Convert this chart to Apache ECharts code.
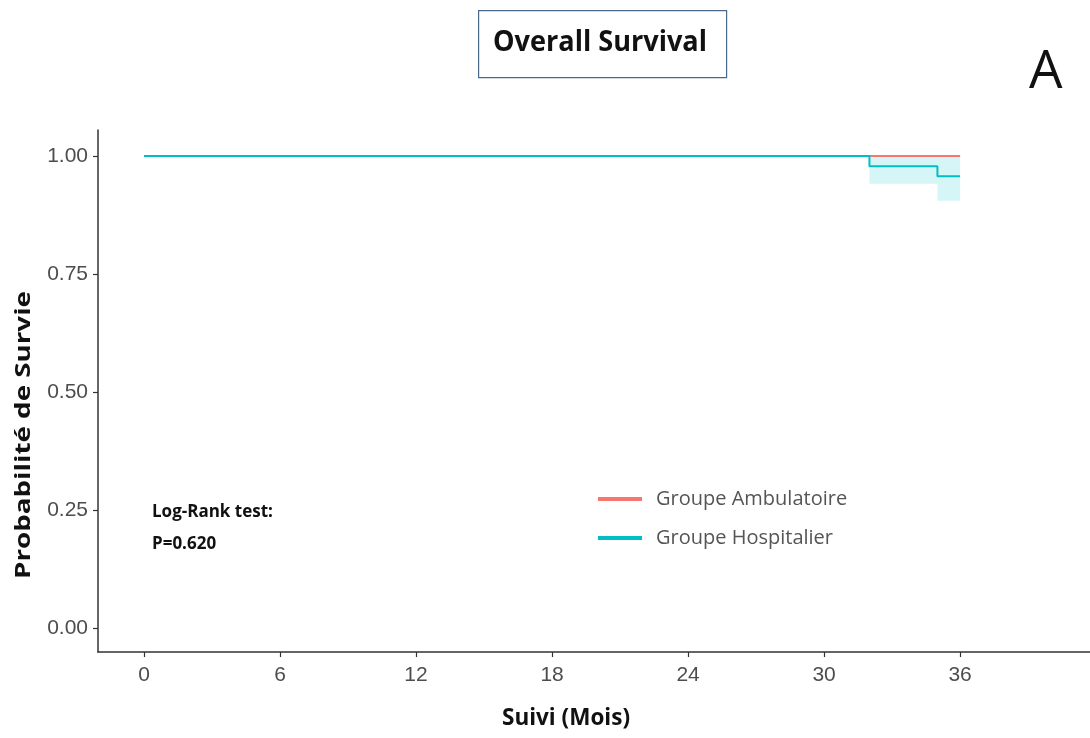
<!DOCTYPE html>
<html>
<head>
<meta charset="utf-8">
<script src="https://cdn.jsdelivr.net/npm/echarts@6/dist/echarts.min.js"></script>
<style>
html,body{margin:0;padding:0;background:#fff;}
#chart{width:1090px;height:738px;}
</style>
</head>
<body>
<div id="chart"></div>
<script>
// ---- data ----
var xTicks = [0, 6, 12, 18, 24, 30, 36];
var yTicks = [0, 0.25, 0.5, 0.75, 1.0];
var groupNames = ['Groupe Ambulatoire', 'Groupe Hospitalier'];
// Kaplan-Meier steps [time, survival]
var ambulatoire = [[0, 1.0], [36, 1.0]];
var hospitalier = [[0, 1.0], [32, 0.978], [35, 0.957], [36, 0.957]];
// confidence band for Hospitalier: [t0, t1, lower, upper]
var hospBand = [[32, 35, 0.941, 1.0], [35, 36, 0.905, 1.0]];
var logRankText = ['Log-Rank test:', 'P=0.620'];

var RED = '#F8766D', TEAL = '#00BFC4';

function textW(t, font) {
  var c = document.createElement('canvas').getContext('2d');
  c.font = font; return c.measureText(t).width;
}
function fitScale(t, font, target) { return target / textW(t, font); }

var chart = echarts.init(document.getElementById('chart'));

var titleFont = 'bold 29px "Open Sans"';
var yNameFont = 'bold 22px "Open Sans"';
var xNameFont = 'bold 24px "Open Sans"';
var lrFont = 'bold 17px "Open Sans"';

var option = {
  animation: false,
  grid: { left: 98, right: 0, top: 130, bottom: 86 },
  xAxis: {
    type: 'value', min: -2.03, max: 41.73,
    splitLine: { show: false },
    axisLine: { show: true, onZero: false, lineStyle: { color: '#333', width: 1.5 } },
    axisTick: { show: true, customValues: xTicks, length: 5, lineStyle: { color: '#333', width: 1.2 } },
    axisLabel: { customValues: xTicks, margin: 13, color: '#4D4D4D', fontSize: 21,
      fontFamily: '"Liberation Sans Narrow", "Liberation Sans", Arial' }
  },
  yAxis: {
    type: 'value', min: -0.051, max: 1.055,
    splitLine: { show: false },
    axisLine: { show: true, onZero: false, lineStyle: { color: '#333', width: 1.5 } },
    axisTick: { show: true, customValues: yTicks, length: 5, lineStyle: { color: '#333', width: 1.2 } },
    axisLabel: { customValues: yTicks, margin: 10, color: '#4D4D4D', fontSize: 21,
      fontFamily: '"Liberation Sans Narrow", "Liberation Sans", Arial',
      formatter: function (v) { return v.toFixed(2); } }
  },
  legend: {
    show: true, orient: 'vertical', left: 593, top: 484,
    itemWidth: 44, itemHeight: 4, itemGap: 19,
    icon: 'rect',
    textStyle: { color: '#555', fontSize: 20, fontFamily: '"Open Sans"', padding: [0, 0, 0, 9] },
    data: groupNames
  },
  series: [
    {
      type: 'custom', name: 'band', silent: true, z: 1,
      renderItem: function (params, api) {
        var p0 = api.coord([api.value(0), api.value(3)]);
        var p1 = api.coord([api.value(1), api.value(2)]);
        return { type: 'rect', shape: { x: p0[0], y: p0[1], width: p1[0] - p0[0], height: p1[1] - p0[1] },
          style: { fill: 'rgba(0,191,196,0.16)' } };
      },
      data: hospBand
    },
    {
      type: 'line', name: groupNames[0], step: 'end', data: ambulatoire, showSymbol: false, z: 2,
      lineStyle: { color: RED, width: 2 }, itemStyle: { color: RED }
    },
    {
      type: 'line', name: groupNames[1], step: 'end', data: hospitalier, showSymbol: false, z: 3,
      lineStyle: { color: TEAL, width: 2 }, itemStyle: { color: TEAL }
    }
  ],
  graphic: [
    { type: 'rect', left: 478, top: 10, shape: { width: 248, height: 67 },
      style: { fill: '#fff', stroke: '#4A6A8A', lineWidth: 1.2 } },
    { type: 'text', x: 493, y: 28, scaleX: fitScale('Overall Survival', titleFont, 214),
      style: { text: 'Overall Survival', font: titleFont, fill: '#111', textAlign: 'left', textVerticalAlign: 'top' } },
    { type: 'text', x: 1029, y: 46,
      style: { text: 'A', font: '53px "Open Sans"', fill: '#111', textAlign: 'left', textVerticalAlign: 'top' } },
    { type: 'text', x: 566, y: 718, scaleX: fitScale('Suivi (Mois)', xNameFont, 128),
      style: { text: 'Suivi (Mois)', font: xNameFont, fill: '#111', textAlign: 'center', textVerticalAlign: 'middle' } },
    { type: 'text', x: 24, y: 435, rotation: Math.PI / 2, scaleX: fitScale('Probabilité de Survie', yNameFont, 288),
      style: { text: 'Probabilité de Survie', font: yNameFont, fill: '#111', textAlign: 'center', textVerticalAlign: 'middle' } },
    { type: 'text', x: 152, y: 512,
      style: { text: logRankText[0], font: lrFont, fill: '#111', textAlign: 'left', textVerticalAlign: 'middle' } },
    { type: 'text', x: 152, y: 544,
      style: { text: logRankText[1], font: lrFont, fill: '#111', textAlign: 'left', textVerticalAlign: 'middle' } }
  ]
};
chart.setOption(option);
</script>
</body>
</html>
